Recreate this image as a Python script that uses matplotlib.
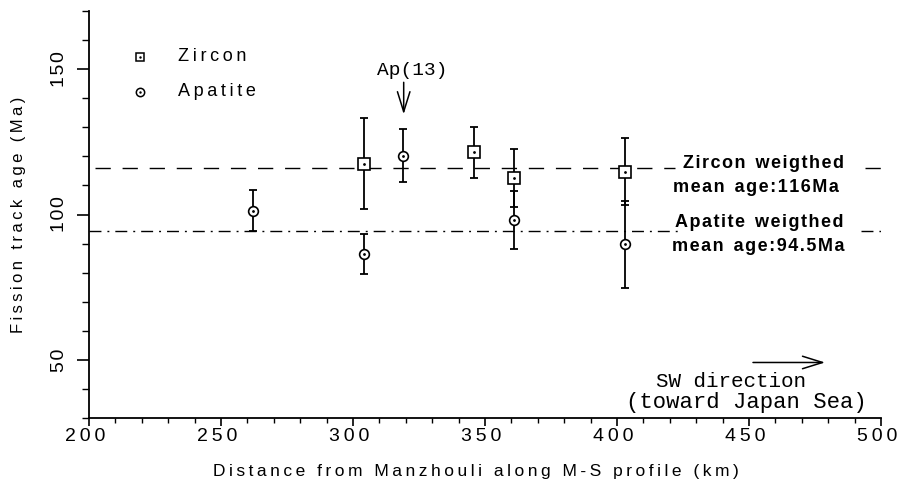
import numpy as np
import matplotlib.pyplot as plt
import matplotlib.transforms as mtransforms
from matplotlib.ticker import MultipleLocator

# Zircon ages
zr_dist = [304, 346, 361, 403]
zr_age = [117.5, 121.4, 112.6, 114.8]
zr_err = [15.7, 8.7, 10.0, 11.5]

# Apatite ages
ap_dist = [262, 304, 319, 361, 403]
ap_age = [101.3, 86.4, 120.3, 98.1, 89.7]
ap_err = [7.0, 7.0, 9.0, 10.0, 15.0]

zr_mean = 116
ap_mean = 94.5

x_ticks = [200, 250, 300, 350, 400, 450, 500]
y_ticks = [50, 100, 150]

THIN = '\u2009'
HAIR = '\u200a'


def sp(s, ch=THIN):
    # разрядка букв
    return ch.join(s)


plt.rcParams['font.family'] = ['Liberation Sans', 'DejaVu Sans']

fig = plt.figure(figsize=(8.98, 4.83), dpi=100)
ax = fig.add_axes([0.0991, 0.1346, 0.882, 0.8424])

ax.set_xlim(200, 500)
ax.set_ylim(30, 170)

# средние линии (с разрывом под подписью)
dash = (0, (11, 8.5))
dashdot = (0, (8.6, 4.3, 1.4, 4.3))
ax.axhline(zr_mean, xmin=0.008, xmax=0.74, color='black', lw=1, ls=dash, zorder=1)
ax.axhline(zr_mean, xmin=0.98, xmax=1.0, color='black', lw=1, ls=dash, zorder=1)
ax.axhline(ap_mean, xmin=0.0, xmax=0.745, color='black', lw=1, ls=dashdot, zorder=1)
ax.axhline(ap_mean, xmin=0.975, xmax=1.0, color='black', lw=1, ls=dashdot, zorder=1)

# погрешности
ax.errorbar(zr_dist, zr_age, yerr=zr_err, fmt='none', ecolor='black', elinewidth=1.3,
            capsize=3, capthick=1.3, zorder=2)
ax.errorbar(ap_dist, ap_age, yerr=ap_err, fmt='none', ecolor='black', elinewidth=1.3,
            capsize=3, capthick=1.3, zorder=2)
ax.plot(zr_dist, zr_age, 's', ms=8, mfc='white', mec='black', mew=1.2, zorder=3)
ax.plot(ap_dist, ap_age, 'o', ms=7, mfc='white', mec='black', mew=1.2, zorder=3)
ax.plot(zr_dist + ap_dist, zr_age + ap_age, '.', ms=2, color='black', zorder=4)

# легенда вручную
ax.plot([219.3], [154.3], 's', ms=6, mfc='white', mec='black', mew=1.1)
ax.plot([219.3], [154.3], '.', ms=1.5, color='black')
ax.plot([219.3], [142.2], 'o', ms=6, mfc='white', mec='black', mew=1.1)
ax.plot([219.3], [142.2], '.', ms=1.5, color='black')
ax.text(233.7, 154.3, sp('Zircon'), fontsize=13, va='center', ha='left')
ax.text(233.7, 142.2, sp('Apatite'), fontsize=13, va='center', ha='left')

# Ap(13)
ax.text(322.5, 149.5, 'Ap(13)', ha='center', va='center', fontsize=14, family='Liberation Mono')
ax.annotate('', xy=(319.2, 134.5), xytext=(319.2, 145.5),
            arrowprops=dict(arrowstyle='->,head_length=0.8,head_width=0.25', color='black',
                            lw=1.1, mutation_scale=18, shrinkA=0, shrinkB=0))

ax.text(455.5, 117.6, sp('Zircon', HAIR) + '  ' + sp('weigthed', HAIR), fontsize=13,
        weight='bold', ha='center', va='center')
ax.text(452.8, 109.3, sp('mean', HAIR) + '  ' + sp('age:116Ma', HAIR), fontsize=13,
        weight='bold', ha='center', va='center')
ax.text(453.8, 97.2, sp('Apatite', HAIR) + '  ' + sp('weigthed', HAIR), fontsize=13,
        weight='bold', ha='center', va='center')
ax.text(453.6, 89.0, sp('mean', HAIR) + '  ' + sp('age:94.5Ma', HAIR), fontsize=13,
        weight='bold', ha='center', va='center')

# SW direction
ax.annotate('', xy=(478.8, 49.1), xytext=(451.5, 49.1),
            arrowprops=dict(arrowstyle='->,head_length=0.8,head_width=0.25', color='black',
                            lw=1.1, mutation_scale=18, shrinkA=0, shrinkB=0))
ax.text(443, 42.5, 'SW direction', fontsize=15, family='Liberation Mono', ha='center', va='center')
ax.text(448.9, 35.5, '(toward Japan Sea)', fontsize=16, family='Liberation Mono',
        ha='center', va='center')

ax.spines['top'].set_visible(False)
ax.spines['right'].set_visible(False)
ax.spines['left'].set_linewidth(1.3)
ax.spines['bottom'].set_linewidth(1.3)

ax.set_yticks(y_ticks)
ax.set_yticklabels([sp(str(v), HAIR) for v in y_ticks])
ax.set_xticks(x_ticks)
ax.set_xticklabels([sp(str(v)) for v in x_ticks])
ax.yaxis.set_minor_locator(MultipleLocator(10))
ax.xaxis.set_minor_locator(MultipleLocator(10))
ax.tick_params(axis='x', which='major', length=6, width=1.2, labelsize=14, pad=1)
ax.tick_params(axis='x', which='minor', length=3.5, width=1.0)
ax.tick_params(axis='y', which='major', length=9, width=1.2, labelsize=14, pad=6)
ax.tick_params(axis='y', which='minor', length=5, width=1.0)
ax.tick_params(axis='y', labelrotation=90)
for lbl in ax.get_yticklabels():
    lbl.set_va('center')
shift = mtransforms.ScaledTranslation(-4 / 100, 0, fig.dpi_scale_trans)
for lbl in ax.get_xticklabels():
    lbl.set_transform(lbl.get_transform() + shift)

ax.set_xlabel(sp('Distance from Manzhouli along M-S profile (km)'), fontsize=12.5)
ax.xaxis.set_label_coords(0.4886, -0.112)
ax.set_ylabel(sp('Fission track age (Ma)'), fontsize=12)
ax.yaxis.set_label_coords(-0.0795, 0.499)

fig.savefig('out.png', dpi=100)
